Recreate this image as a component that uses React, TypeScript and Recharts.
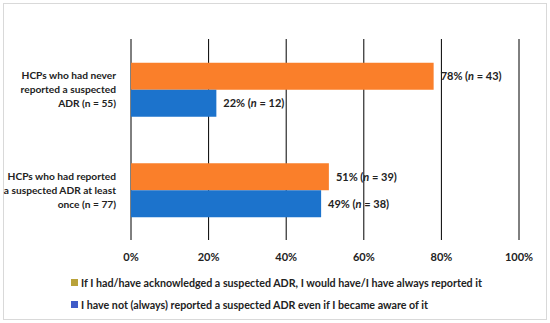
import React from 'react';
import { BarChart, Bar, XAxis, YAxis, CartesianGrid, LabelList } from 'recharts';

const categories = [
  ['HCPs who had never', 'reported a suspected', 'ADR (n = 55)'],
  ['HCPs who had reported', 'a suspected ADR at least', 'once (n = 77)'],
];
const alwaysReported = [78, 51];
const alwaysReportedN = [43, 39];
const notAlwaysReported = [22, 49];
const notAlwaysReportedN = [12, 38];
const xTicks = [0, 20, 40, 60, 80, 100];
const legendLabels = [
  'If I had/have acknowledged a suspected ADR, I would have/I have always reported it',
  'I have not (always) reported a suspected ADR even if I became aware of it',
];

const FONT = 'Lato, "Open Sans", sans-serif';

const data = categories.map((c, i) => ({
  name: c.join(' '),
  idx: i,
  always: alwaysReported[i],
  notAlways: notAlwaysReported[i],
}));

const makeLabel = (nArr: number[]) => (props: any) => {
  const { x, y, width, height, value, index } = props;
  return (
    <text
      x={x + width + 7}
      y={y + height / 2}
      dy="0.35em"
      fontSize={11}
      fontWeight={700}
      fill="#222"
      fontFamily={FONT}
    >
      {`${value}% (`}
      <tspan fontStyle="italic">n</tspan>
      {` = ${nArr[index]})`}
    </text>
  );
};

const CategoryTick = (props: any) => {
  const { x, y, index } = props;
  const lines = categories[index] || [];
  return (
    <text
      x={x - 7}
      y={y}
      textAnchor="end"
      fontSize={10.2}
      fontWeight={700}
      fill="#222"
      fontFamily={FONT}
    >
      {lines.map((l, i) => (
        <tspan key={i} x={x - 7} dy={i === 0 ? -14 + 4 : 14}>
          {l}
        </tspan>
      ))}
    </text>
  );
};

export default function App() {
  return (
    <div style={{ position: 'absolute', left: 0, top: 0, width: 550, height: 323, background: '#fff' }}>
      <div
        style={{
          position: 'absolute',
          left: 3,
          top: 3,
          width: 542,
          height: 315,
          border: '1px solid #d9d9d9',
        }}
      />
      <BarChart
        width={550}
        height={323}
        data={data}
        layout="vertical"
        margin={{ top: 39, right: 31, left: 0, bottom: 63 }}
        barCategoryGap="23.6%"
        barGap={0}
      >
        <CartesianGrid horizontal={false} stroke="#000" strokeWidth={1} />
        <XAxis
          type="number"
          domain={[0, 100]}
          ticks={xTicks}
          tickFormatter={(v) => `${v}%`}
          axisLine={false}
          tickLine={false}
          tickMargin={7}
          height={20}
          tick={{ fontSize: 11, fontWeight: 700, fill: '#222', fontFamily: FONT }}
        />
        <YAxis
          type="category"
          dataKey="name"
          width={131}
          axisLine={false}
          tickLine={false}
          tick={<CategoryTick />}
        />
        <Bar dataKey="always" fill="#FA7F2A" isAnimationActive={false}>
          <LabelList dataKey="always" content={makeLabel(alwaysReportedN)} />
        </Bar>
        <Bar dataKey="notAlways" fill="#1C73CC" isAnimationActive={false}>
          <LabelList dataKey="notAlways" content={makeLabel(notAlwaysReportedN)} />
        </Bar>
      </BarChart>
      {legendLabels.map((l, i) => (
        <div
          key={i}
          style={{
            position: 'absolute',
            left: 71,
            top: 275 + i * 22,
            height: 14,
            display: 'flex',
            alignItems: 'center',
            fontFamily: FONT,
            fontSize: 10.7,
            fontWeight: 700,
            color: '#222',
            whiteSpace: 'nowrap',
          }}
        >
          <span
            style={{
              display: 'inline-block',
              width: 7,
              height: 7,
              background: i === 0 ? '#B9A23A' : '#3F5BC8',
              marginRight: 3,
            }}
          />
          {l}
        </div>
      ))}
    </div>
  );
}
